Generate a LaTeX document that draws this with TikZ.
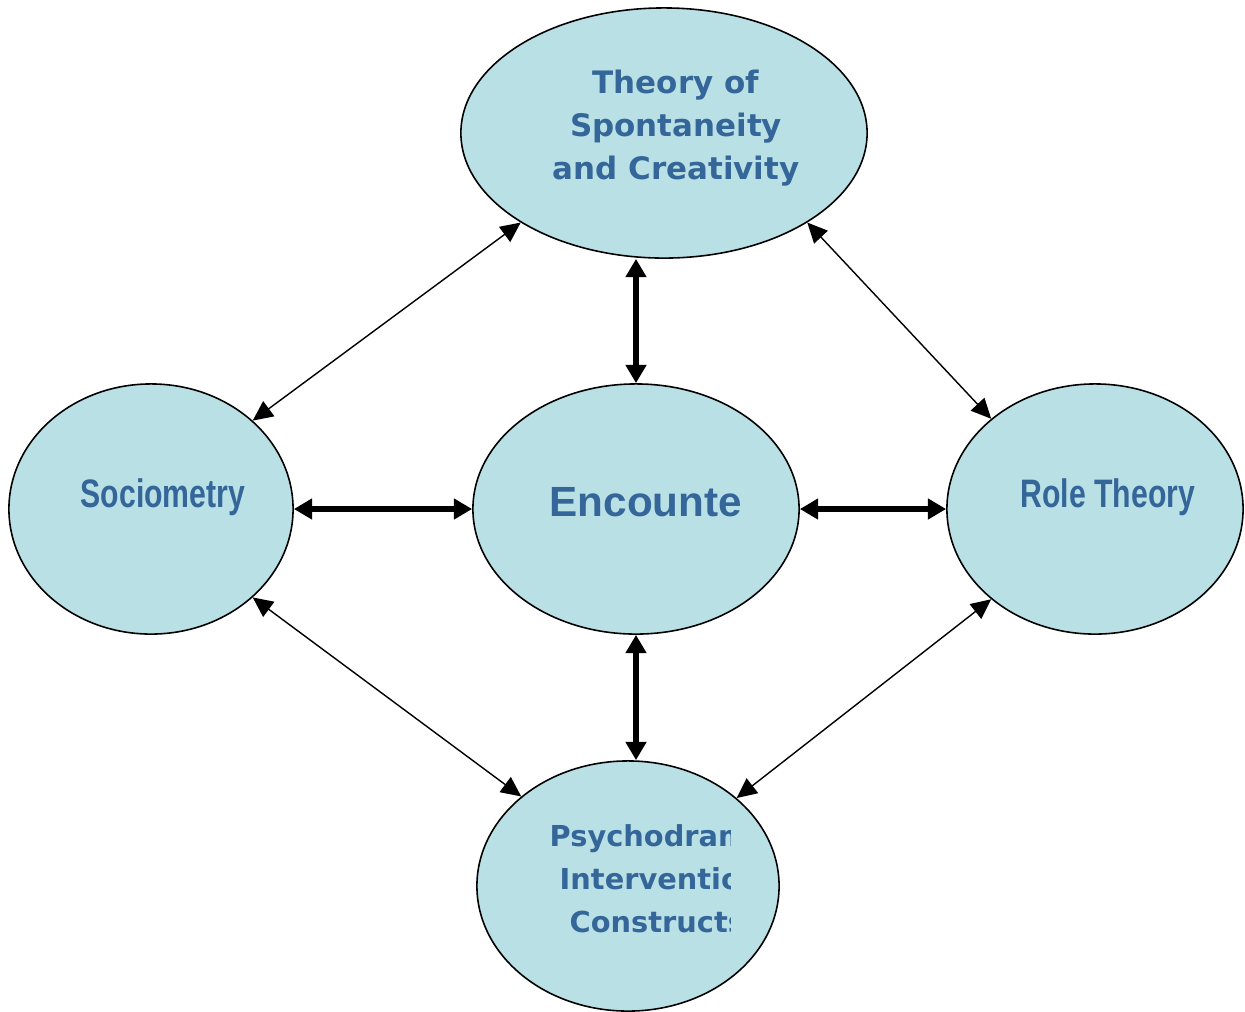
\documentclass[tikz,border=0pt]{standalone}
\usepackage{fontspec}
\usetikzlibrary{arrows.meta,shapes.geometric}
\newfontfamily\wideFont{DejaVu Sans}
\newfontfamily\narrowFont{Liberation Sans}[FakeStretch=0.76]
\newfontfamily\armFont{Liberation Sans}
\definecolor{bubbleFill}{RGB}{185,224,228}
\definecolor{labelBlue}{RGB}{52,102,153}
\tikzset{
  bubble/.style={ellipse,draw=black,line width=0.45pt,fill=bubbleFill,
                 minimum height=2.5cm,inner sep=0pt},
  wideLbl/.style={inner sep=0pt,text=labelBlue,font=\wideFont\bfseries\fontsize{8.8}{10}\selectfont},
  smallLbl/.style={inner sep=0pt,text=labelBlue,font=\wideFont\bfseries\fontsize{8.2}{10}\selectfont},
  narrowLbl/.style={inner sep=0pt,text=labelBlue,font=\narrowFont\bfseries\fontsize{11.3}{13}\selectfont},
  bigLbl/.style={inner sep=0pt,text=labelBlue,font=\armFont\bfseries\fontsize{12}{14}\selectfont},
  thinArrow/.style={{Triangle[length=5.7pt,width=5.3pt]}-{Triangle[length=5.7pt,width=5.3pt]},line width=0.4pt},
  thickArrow/.style={{Triangle[length=5.2pt,width=5.7pt]}-{Triangle[length=5.2pt,width=5.7pt]},line width=1.6pt}
}
\begin{document}
\begin{tikzpicture}[x=0.01cm,y=-0.01cm]
    \useasboundingbox (0,0) rectangle (1245,1011);

    % the five bubbles
    \node[bubble,minimum width=4.06cm] (spont) at (664,133) {};
    \node[bubble,minimum width=2.84cm] (socio) at (151,509) {};
    \node[bubble,minimum width=3.26cm] (enc) at (636,509) {};
    \node[bubble,minimum width=2.96cm] (role) at (1095,509) {};
    \node[bubble,minimum width=3.02cm] (psy) at (628,886) {};

    % labels
    \node[wideLbl,anchor=base] (spontA) at (676,93) {Theory of};
    \node[wideLbl,anchor=base] (spontB) at (676,136) {Spontaneity};
    \node[wideLbl,anchor=base] (spontC) at (676,179) {and Creativity};

    \node[narrowLbl,anchor=base west] (sociol) at (80,507) {Sociometry};
    \node[narrowLbl,anchor=base west] (rolel) at (1020,507) {Role Theory};
    \node[bigLbl,anchor=base west] (encl) at (549,516) {Encounte};

    \begin{scope}
        \clip (470,800) rectangle (730,960);
        \node[smallLbl,anchor=base west] (psyA) at (549,846) {Psychodram};
        \node[smallLbl,anchor=base west] (psyB) at (559,889) {Interventio};
        \node[smallLbl,anchor=base west] (psyC) at (569,932) {Constructs};
    \end{scope}

    % thick links to the centre
    \draw[thickArrow] (enc.north |- spont.south) -- (enc.north);
    \draw[thickArrow] (socio.east) -- (enc.west);
    \draw[thickArrow] (enc.east) -- (role.west);
    \draw[thickArrow] (enc.south) -- (enc.south |- psy.north);

    % thin links round the ring
    \draw[thinArrow] (spont.212) -- (socio.41);
    \draw[thinArrow] (spont.328) -- (role.139);
    \draw[thinArrow] (socio.319) -- (psy.140);
    \draw[thinArrow] (role.221) -- (psy.39);

\end{tikzpicture}
\end{document}
